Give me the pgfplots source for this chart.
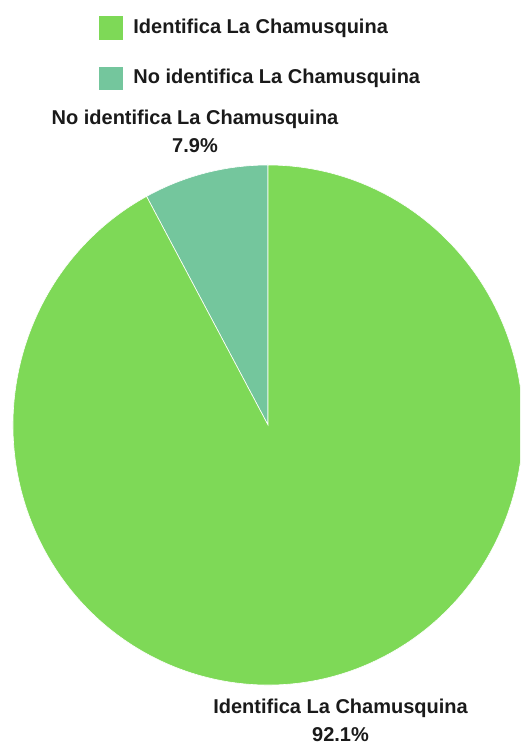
\documentclass[border=0pt]{standalone}
\usepackage{pgfplots}
\pgfplotsset{compat=1.18}
\usepackage{pgfplotstable}
\usepackage{fontspec}
\setmainfont{Liberation Sans}
\definecolor{cIdent}{HTML}{7ED957}
\definecolor{cNo}{HTML}{74C69D}
\definecolor{txt}{HTML}{1A1A1A}
\pgfplotstableread{
label value
Identifica 92.1
NoIdentifica 7.9
}\piedata
\begin{document}
\begin{tikzpicture}[font=\bfseries\fontsize{10pt}{12pt}\selectfont, text=txt]
\useasboundingbox (0,0) rectangle (260pt,372pt);
\clip (0,0) rectangle (260pt,372pt);
\pgfplotstablegetelem{0}{value}\of\piedata \let\vA\pgfplotsretval
\pgfplotstablegetelem{1}{value}\of\piedata \let\vB\pgfplotsretval
\pgfmathsetmacro{\aB}{90+3.6*\vB}
\pgfmathsetmacro{\aA}{\aB+3.6*\vA}
\pgfmathsetmacro{\cB}{cos(\aB)}
\pgfmathsetmacro{\sB}{sin(\aB)}
\begin{axis}[
  hide axis, clip=false,
  x=127.5pt, y=130pt,
  xmin=-1, xmax=1, ymin=-1, ymax=1,
  anchor=origin, at={(134pt,159.5pt)},
]
\fill[cNo, draw=white, line width=0.3pt] (axis cs:0,0) -- (axis cs:0,1)
  arc[start angle=90, end angle=\aB, x radius=127.5pt, y radius=130pt] -- cycle;
\fill[cIdent, draw=white, line width=0.3pt] (axis cs:0,0) -- (axis cs:\cB,\sB)
  arc[start angle=\aB, end angle=\aA, x radius=127.5pt, y radius=130pt] -- cycle;
\end{axis}
% legend
\fill[cIdent] (49.5pt,352pt) rectangle (61.5pt,364pt);
\node[anchor=base west, inner sep=0pt] at (66.5pt,355.3pt) {Identifica La Chamusquina};
\fill[cNo] (49.5pt,327pt) rectangle (61.5pt,338.5pt);
\node[anchor=base west, inner sep=0pt] at (66.5pt,330.3pt) {No identifica La Chamusquina};
% slice labels
\node[anchor=base, inner sep=0pt] at (97.5pt,309.5pt) {No identifica La Chamusquina};
\node[anchor=base, inner sep=0pt] at (97.5pt,295.7pt) {7.9\%};
\node[anchor=base, inner sep=0pt] at (170.25pt,15.3pt) {Identifica La Chamusquina};
\node[anchor=base, inner sep=0pt] at (170.25pt,1.2pt) {92.1\%};
\end{tikzpicture}
\end{document}
